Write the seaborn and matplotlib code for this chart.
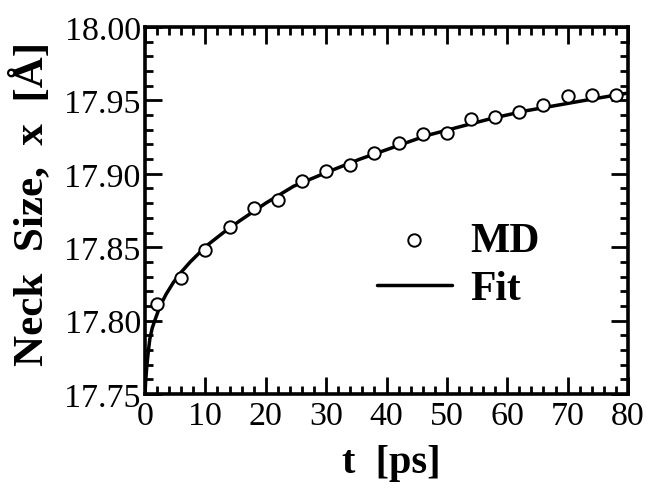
import numpy as np
import pandas as pd
import matplotlib
matplotlib.use("Agg")
import matplotlib.pyplot as plt
import seaborn as sns
from matplotlib.ticker import MultipleLocator, FormatStrFormatter

# MD data
t_md = [2, 6, 10, 14, 18, 22, 26, 30, 34, 38, 42, 46, 50, 54, 58, 62, 66, 70, 74, 78]
x_md = [17.811, 17.829, 17.848, 17.864, 17.877, 17.882, 17.895, 17.902, 17.906, 17.914,
        17.921, 17.927, 17.928, 17.937, 17.939, 17.942, 17.947, 17.953, 17.954, 17.954]

# Fit curve
t_fit = [0.0, 0.1, 0.3, 0.55, 0.8, 1.2, 1.7, 2.5, 3.5, 4.7, 6.0, 7.5, 10.2, 13.0, 15.7, 20.0,
         24.6, 30.1, 35.6, 41.1, 46.6, 52.1, 57.7, 63.2, 68.7, 74.2, 80.0]
x_fit = [17.750, 17.758, 17.769, 17.779, 17.7875, 17.795, 17.801, 17.810, 17.818, 17.826,
         17.833, 17.840, 17.851, 17.860, 17.868, 17.880, 17.8915, 17.901, 17.910, 17.918,
         17.926, 17.932, 17.938, 17.943, 17.947, 17.951, 17.955]

md = pd.DataFrame({"t": t_md, "x": x_md})
fit = pd.DataFrame({"t": t_fit, "x": x_fit})

sns.set_theme(style="ticks")
plt.rcParams["font.family"] = ["Liberation Serif", "DejaVu Serif"]
plt.rcParams["text.color"] = "black"
plt.rcParams["axes.labelcolor"] = "black"
plt.rcParams["xtick.color"] = "black"
plt.rcParams["ytick.color"] = "black"

fig = plt.figure(figsize=(6.47, 4.85), dpi=100)
ax = fig.add_axes([145 / 647, 1 - 395 / 485, (628 - 145) / 647, (395 - 28) / 485])

sns.lineplot(data=fit, x="t", y="x", ax=ax, color="black", linewidth=2.5,
             label="Fit", sort=False, estimator=None)
sns.scatterplot(data=md, x="t", y="x", ax=ax, marker="o", s=80, facecolor="white",
                edgecolor="black", linewidth=1.4, label="MD", zorder=3)

ax.set_xlim(0, 80)
ax.set_ylim(17.75, 18.00)
ax.xaxis.set_major_locator(MultipleLocator(10))
ax.xaxis.set_minor_locator(MultipleLocator(2))
ax.yaxis.set_major_locator(MultipleLocator(0.05))
ax.yaxis.set_minor_locator(MultipleLocator(0.01))
ax.yaxis.set_major_formatter(FormatStrFormatter("%.2f"))

ax.tick_params(which="both", direction="in", top=True, right=True, colors="black",
               labelcolor="black")
ax.tick_params(which="major", length=12, width=2.0, labelsize=24.5)
ax.tick_params(which="minor", length=6, width=2.0)
ax.tick_params(axis="x", which="major", pad=5)
ax.tick_params(axis="y", which="major", pad=3)
for sp in ax.spines.values():
    sp.set_linewidth(2.6)
    sp.set_color("black")

ax.set_xlabel("t  [ps]", fontsize=29, fontweight="bold", color="black")
ax.set_ylabel("Neck  Size,  x  [Å]", fontsize=31, fontweight="bold", color="black")
ax.yaxis.set_label_coords(-0.195, 0.52)
ax.xaxis.set_label_coords(0.51, -0.137)

h, l = ax.get_legend_handles_labels()
order = [l.index("MD"), l.index("Fit")]
leg = ax.legend([h[i] for i in order], [l[i] for i in order], frameon=False,
                loc="upper left", bbox_to_anchor=(0.48, 0.47),
                prop={"family": "Liberation Serif", "weight": "bold", "size": 30},
                handlelength=1.8, handletextpad=0.45, labelspacing=0.25,
                borderpad=0, borderaxespad=0, markerscale=1.0)
for txt in leg.get_texts():
    txt.set_color("black")

fig.savefig("out.png", dpi=100)
